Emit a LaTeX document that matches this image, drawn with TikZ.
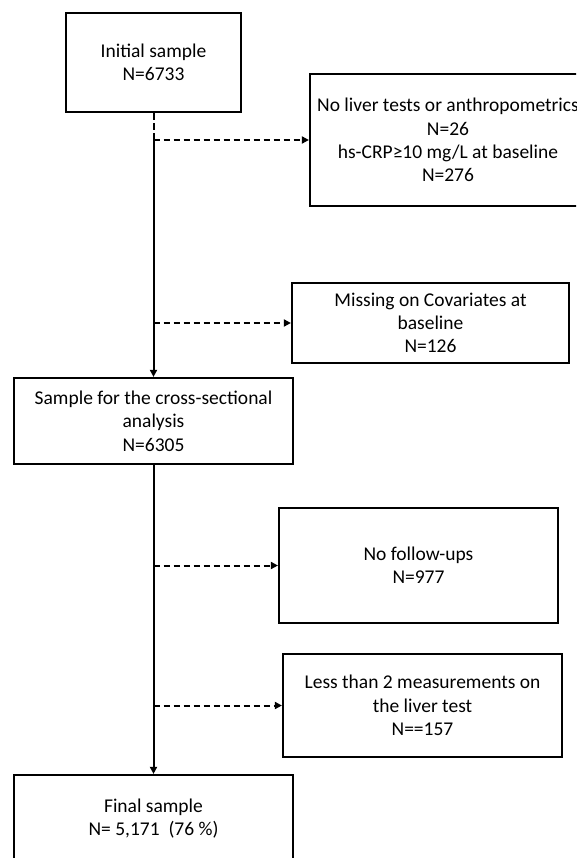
\documentclass[tikz,border=0pt]{standalone}
\usepackage{fontspec}
\setmainfont{Carlito}
\usetikzlibrary{arrows.meta}

\begin{document}
\begin{tikzpicture}[x=1pt, y=-1pt]
  % Define styles
  \tikzset{
    stage/.style={draw, line width=2.2pt, align=center, inner sep=0pt, font=\fontsize{19.5}{23.3}\selectfont},
    flow/.style={-{Triangle[length=7pt, width=7pt]}, line width=2pt},
    drop/.style={flow, dash pattern=on 6.5pt off 3.5pt},
    dropline/.style={line width=2pt, dash pattern=on 6.5pt off 3.5pt}
  }
  \useasboundingbox (0,0) rectangle (576,858);
  \clip (0,0) rectangle (576,858);

  % Samples kept (left column)
  \node[stage, minimum width=175pt, minimum height=99pt] (init) at (153.5,62.5) {Initial sample\\N=6733};
  \node[stage, minimum width=279pt, minimum height=86pt] (cross) at (153.5,421) {Sample for the cross-sectional\\analysis\\N=6305};
  \node[stage, minimum width=279pt, minimum height=87pt] (final) at (153.5,818.5) {Final sample\\N= 5,171~ (76 \%)};

  % Exclusions (right column)
  \node[stage, minimum width=276pt, minimum height=132pt] (excl1) at (448,140) {No liver tests or anthropometrics\\N=26\\hs-CRP≥10 mg/L at baseline\\N=276};
  \node[stage, minimum width=277pt, minimum height=80pt] (excl2) at (430.5,323) {Missing on Covariates at\\baseline\\N=126};
  \node[stage, minimum width=279pt, minimum height=115pt] (excl3) at (418.5,565.5) {No follow-ups\\N=977};
  \node[stage, minimum width=279pt, minimum height=103pt] (excl4) at (422.5,705.5) {Less than 2 measurements on\\the liver test\\N==157};

  % Main flow
  \coordinate (j1) at (init.south |- excl1.west);
  \draw[dropline] (init.south) -- (j1);
  \draw[flow] (j1) -- (cross.north);
  \draw[flow] (cross.south) -- (final.north);

  % Exclusion arrows
  \draw[drop] (j1) -- (excl1.west);
  \draw[drop] (j1 |- excl2.west) -- (excl2.west);
  \draw[drop] (cross.south |- excl3.west) -- (excl3.west);
  \draw[drop] (cross.south |- excl4.west) -- (excl4.west);
\end{tikzpicture}
\end{document}
